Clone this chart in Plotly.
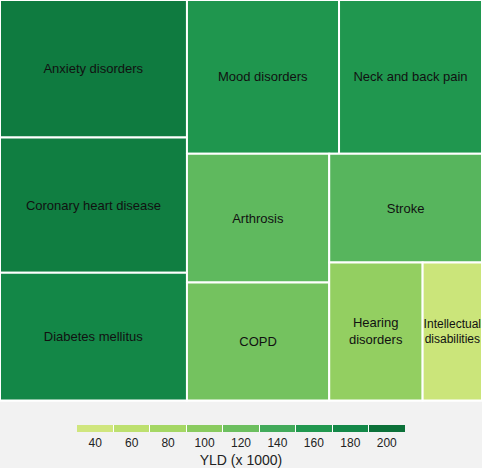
import plotly.graph_objects as go

# ---- data ----
labels = ["Anxiety disorders", "Coronary heart disease", "Diabetes mellitus",
          "Mood disorders", "Neck and back pain", "Arthrosis", "COPD",
          "Stroke", "Hearing disorders", "Intellectual disabilities"]
display_text = ["Anxiety disorders", "Coronary heart disease", "Diabetes mellitus",
                "Mood disorders", "Neck and back pain", "Arthrosis", "COPD",
                "Stroke", "Hearing<br>disorders", "Intellectual<br>disabilities"]
sizes = [257, 253, 239, 234, 220, 183, 168, 166, 129, 82]
yld = [191, 189, 181, 163, 161, 126, 115, 130, 93, 45]

tick_vals = [40, 60, 80, 100, 120, 140, 160, 180, 200]
bin_colors = ["#d0e67e", "#bde06f", "#a5d764", "#8acb5f", "#6cbf5f",
              "#42aa5a", "#21984f", "#138848", "#0c7139"]
cmin, cmax = 30, 210

# continuous scale for the tiles (anchored at bin centres)
cont_scale = [[0, bin_colors[0]]]
for v, c in zip(tick_vals, bin_colors):
    cont_scale.append([(v - cmin) / (cmax - cmin), c])
cont_scale.append([1, bin_colors[-1]])

# stepped scale with thin white separators for the legend
eps = 0.0015
n = len(bin_colors)
step_scale = []
for k, c in enumerate(bin_colors):
    lo, hi = k / n, (k + 1) / n
    if k > 0:
        step_scale.append([lo - eps, "#ffffff"])
        step_scale.append([lo + eps, "#ffffff"])
    step_scale.append([lo + eps if k > 0 else 0, c])
    step_scale.append([hi - eps if k < n - 1 else 1, c])

W, H = 482, 468
tree_bottom = 403

ids = ["root"] + labels
parents = [""] + ["root"] * len(labels)
values = [sum(sizes)] + sizes
texts = [""] + display_text
colors = [cmax] + yld
font_sizes = [13] + [12 if t.startswith("Intellectual") else 13 for t in labels]

fig = go.Figure()
fig.add_trace(go.Treemap(
    ids=ids,
    labels=[""] + labels,
    parents=parents,
    values=values,
    branchvalues="total",
    text=texts,
    texttemplate="%{text}",
    textposition="middle center",
    textfont=dict(family="Liberation Sans, Arial, sans-serif", size=font_sizes, color="#111111"),
    marker=dict(colors=colors, colorscale=cont_scale, cmin=cmin, cmax=cmax,
                showscale=False, line=dict(color="white", width=2),
                pad=dict(t=0, l=0, r=0, b=0)),
    tiling=dict(packing="squarify", squarifyratio=1, pad=0),
    pathbar=dict(visible=False),
    sort=True,
    domain=dict(x=[0, 1], y=[(H - tree_bottom) / H, 1]),
    hoverinfo="skip",
))

fig.add_trace(go.Scatter(
    x=[None], y=[None], mode="markers", showlegend=False, hoverinfo="skip",
    marker=dict(color=[cmin], colorscale=step_scale, cmin=cmin, cmax=cmax, showscale=True,
                colorbar=dict(orientation="h", x=0.5, xanchor="center",
                              y=(H - 428) / H, yanchor="top",
                              len=328, lenmode="pixels", thickness=7,
                              xpad=0, ypad=0, outlinewidth=0, ticks="",
                              tickvals=tick_vals,
                              tickfont=dict(family="Liberation Sans, Arial, sans-serif",
                                            size=12, color="#222222"),
                              title=dict(text="YLD (x 1000)", side="bottom",
                                         font=dict(family="Liberation Sans, Arial, sans-serif",
                                                   size=14, color="#222222")))),
))

fig.update_layout(
    width=W, height=H,
    margin=dict(l=0, r=0, t=0, b=0),
    paper_bgcolor="#f2f2f2",
    plot_bgcolor="rgba(0,0,0,0)",
    xaxis=dict(visible=False),
    yaxis=dict(visible=False),
    uniformtext=dict(minsize=12, mode="show"),
    hovermode=False,
)

fig.write_html("out.html", config={"displayModeBar": False},
               post_script="document.body.style.margin='0';document.body.style.overflow='hidden';")
